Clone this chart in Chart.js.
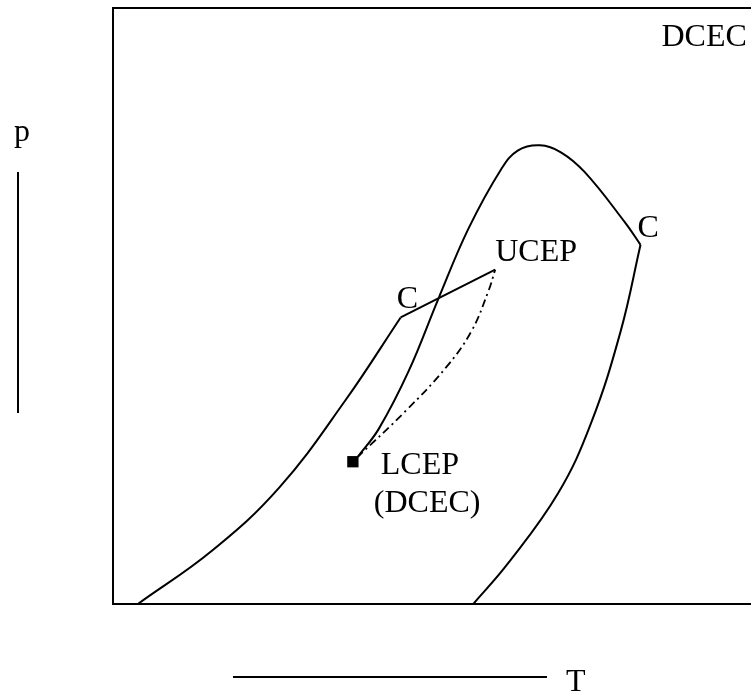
<!DOCTYPE html>
<html>
<head>
<meta charset="utf-8">
<script src="https://cdn.jsdelivr.net/npm/chart.js@4/dist/chart.umd.min.js"></script>
<style>
  html, body { margin: 0; padding: 0; background: #fff; overflow: hidden; }
  #wrap { width: 760px; height: 695px; }
</style>
</head>
<body>
<div id="wrap"><canvas id="c" width="760" height="695"></canvas></div>
<script>
// Values (T, p in arbitrary units)
const leftCurveT = [25, 100, 167, 233, 289];
const leftCurveP = [0, 54, 117, 204, 288];

const cToUcepT = [289, 384];
const cToUcepP = [288, 336];

const loopUpT = [246, 267, 297, 327, 357, 390, 407, 429, 450, 474, 514, 530];
const loopUpP = [148, 176, 234, 307, 377, 437, 456, 461, 454, 434, 384, 361];

const loopDownT = [530, 510, 480, 447, 397, 362];
const loopDownP = [361, 274, 181, 111, 41, 0];

const dashT = [245, 294, 334, 360, 377, 384];
const dashP = [147, 194, 237, 274, 314, 336];

const lcepT = [241];
const lcepP = [143];

const labelTexts = ["DCEC", "UCEP", "C", "C", "LCEP", "(DCEC)"];
const labelT = [551, 384, 285, 527, 269, 262];
const labelP = [561, 345, 297, 369, 131, 92];

const axisNameX = "T";
const axisNameY = "p";

function pts(xs, ys) { return xs.map((x, i) => ({ x: x, y: ys[i] })); }

const FONT = '32px "Liberation Serif", "Times New Roman", serif';

const decor = {
  id: 'decor',
  beforeDraw(chart) {
    const ctx = chart.ctx;
    ctx.save();
    ctx.fillStyle = '#fff';
    ctx.fillRect(0, 0, chart.width, chart.height);
    ctx.restore();
  },
  afterDatasetsDraw(chart) {
    const ctx = chart.ctx;
    const a = chart.chartArea;
    const xs = chart.scales.x, ys = chart.scales.y;
    ctx.save();
    ctx.strokeStyle = '#000';
    ctx.lineWidth = 2;
    ctx.strokeRect(a.left, a.top, a.right - a.left, a.bottom - a.top);
    ctx.fillStyle = '#000';
    ctx.font = FONT;
    ctx.textAlign = 'left';
    ctx.textBaseline = 'alphabetic';
    labelTexts.forEach((t, i) => {
      ctx.fillText(t, xs.getPixelForValue(labelT[i]), ys.getPixelForValue(labelP[i]));
    });
    ctx.lineWidth = 2;
    ctx.beginPath();
    ctx.moveTo(a.left - 95, 172);
    ctx.lineTo(a.left - 95, 413);
    ctx.moveTo(233, a.bottom + 73);
    ctx.lineTo(547, a.bottom + 73);
    ctx.stroke();
    ctx.fillText(axisNameY, a.left - 99, 141);
    ctx.fillText(axisNameX, 566, a.bottom + 87);
    ctx.restore();
  }
};

const lineDs = (data, extra) => Object.assign({
  data: data,
  showLine: true,
  borderColor: '#000',
  borderWidth: 2,
  pointRadius: 0,
  pointHoverRadius: 0,
  fill: false,
  tension: 0.4
}, extra || {});

new Chart(document.getElementById('c'), {
  type: 'scatter',
  data: {
    datasets: [
      lineDs(pts(leftCurveT, leftCurveP)),
      lineDs(pts(cToUcepT, cToUcepP), { tension: 0 }),
      lineDs(pts(loopUpT, loopUpP)),
      lineDs(pts(loopDownT, loopDownP)),
      lineDs(pts(dashT, dashP), { borderDash: [8, 4, 2, 4], borderWidth: 1.8 }),
      {
        data: pts(lcepT, lcepP),
        showLine: false,
        pointStyle: 'rect',
        pointRadius: 8,
        pointHoverRadius: 8,
        backgroundColor: '#000',
        borderColor: '#000',
        borderWidth: 0
      }
    ]
  },
  options: {
    responsive: false,
    animation: false,
    events: [],
    layout: { padding: { left: 113, top: 5, right: 5, bottom: 91 } },
    plugins: { legend: { display: false }, tooltip: { enabled: false }, title: { display: false } },
    scales: {
      x: { type: 'linear', display: false, min: 0, max: 642 },
      y: { type: 'linear', display: false, min: 0, max: 599 }
    }
  },
  plugins: [decor]
});
</script>
</body>
</html>
